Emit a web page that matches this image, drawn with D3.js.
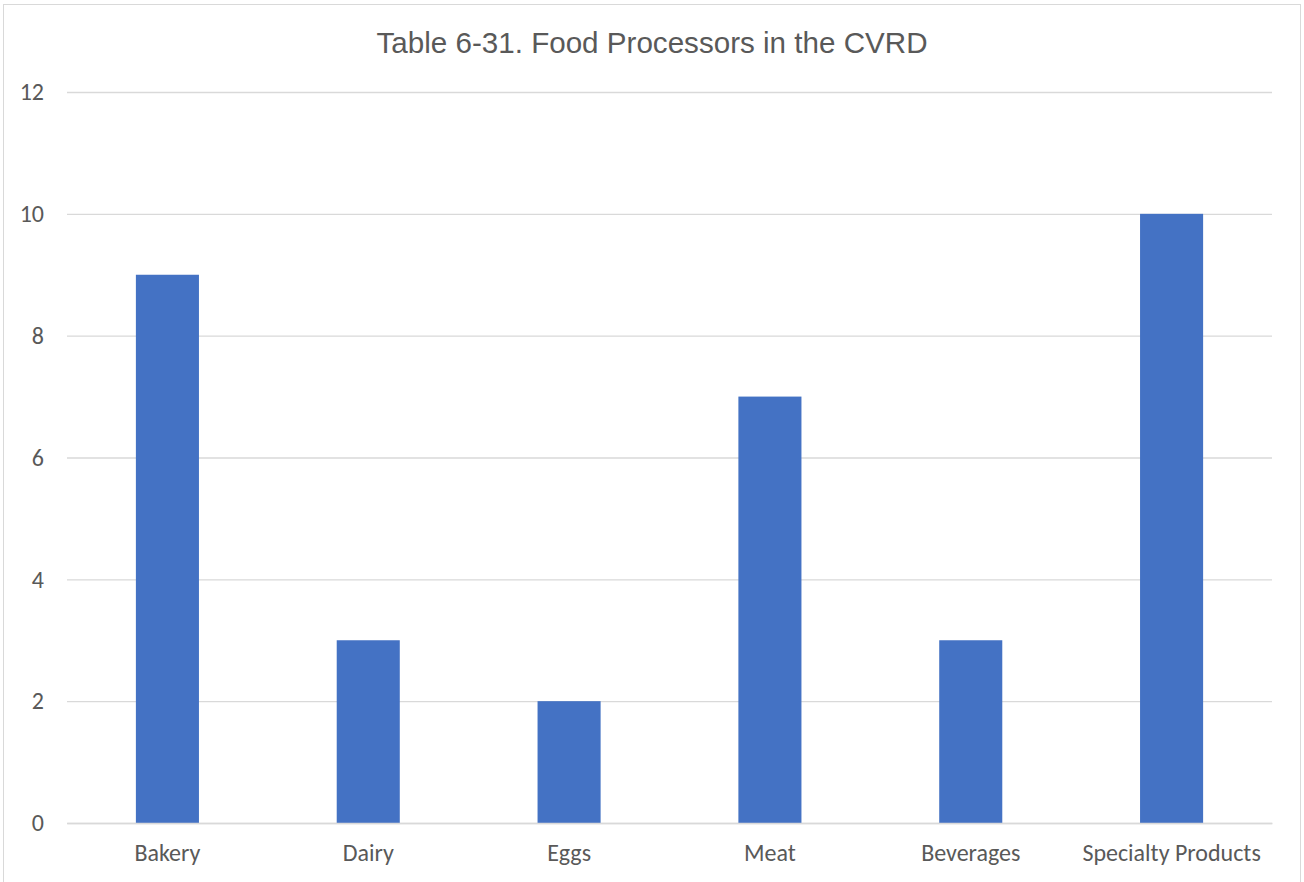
<!DOCTYPE html>
<html><head><meta charset="utf-8">
<script src="https://cdn.jsdelivr.net/npm/d3@7"></script>
<style>body{margin:0;background:#fff}svg{display:block}</style>
</head><body>
<svg id="c" width="1304" height="882"></svg>
<script>
const title = "Table 6-31. Food Processors in the CVRD";
const categories = ["Bakery","Dairy","Eggs","Meat","Beverages","Specialty Products"];
const values = [9,3,2,7,3,10];
const yTicks = [0,2,4,6,8,10,12];

const svg = d3.select("#c");
const W=1304,H=882;
const m={l:67,r:1272,t:92,b:823};
svg.append("rect").attr("x",3.5).attr("y",4.5).attr("width",1297).attr("height",H+10)
  .attr("fill","#fff").attr("stroke","#d9d9d9").attr("stroke-width",1);

const x=d3.scaleBand().domain(categories).range([m.l,m.r]).paddingInner(0.686).paddingOuter(0.343);
const y=d3.scaleLinear().domain([0,12]).range([m.b,m.t]);

const font="Carlito, Calibri, 'Open Sans', 'Liberation Sans', sans-serif";
const gy=svg.append("g").attr("transform",`translate(${m.l},0)`)
  .call(d3.axisLeft(y).tickValues(yTicks).tickSize(-(m.r-m.l)).tickPadding(0).tickFormat(d3.format("d")));
gy.select(".domain").remove();
gy.selectAll(".tick line").attr("stroke","#d9d9d9").attr("stroke-width",1.3);
gy.selectAll(".tick text").attr("x",-23).attr("fill","#595959").style("font-family",font).style("font-size","24px");

svg.append("g").selectAll("rect").data(values).join("rect")
  .attr("x",(d,i)=>x(categories[i])).attr("width",x.bandwidth())
  .attr("y",d=>y(d)).attr("height",d=>y(0)-y(d)).attr("fill","#4472C4");

const gx=svg.append("g").attr("transform",`translate(0,${m.b})`)
  .call(d3.axisBottom(x).tickSize(0).tickPadding(0));
gx.select(".domain").attr("stroke","#d9d9d9").attr("stroke-width",1.3);
gx.selectAll(".tick text").attr("dy",0).attr("y",38).attr("fill","#595959").style("font-family",font).style("font-size","24px");

svg.append("text").attr("x",652).attr("y",53).attr("text-anchor","middle")
  .attr("fill","#595959").style("font-family","'Liberation Sans', Arial, sans-serif").style("font-size","29.6px")
  .text(title);
</script>
</body></html>
